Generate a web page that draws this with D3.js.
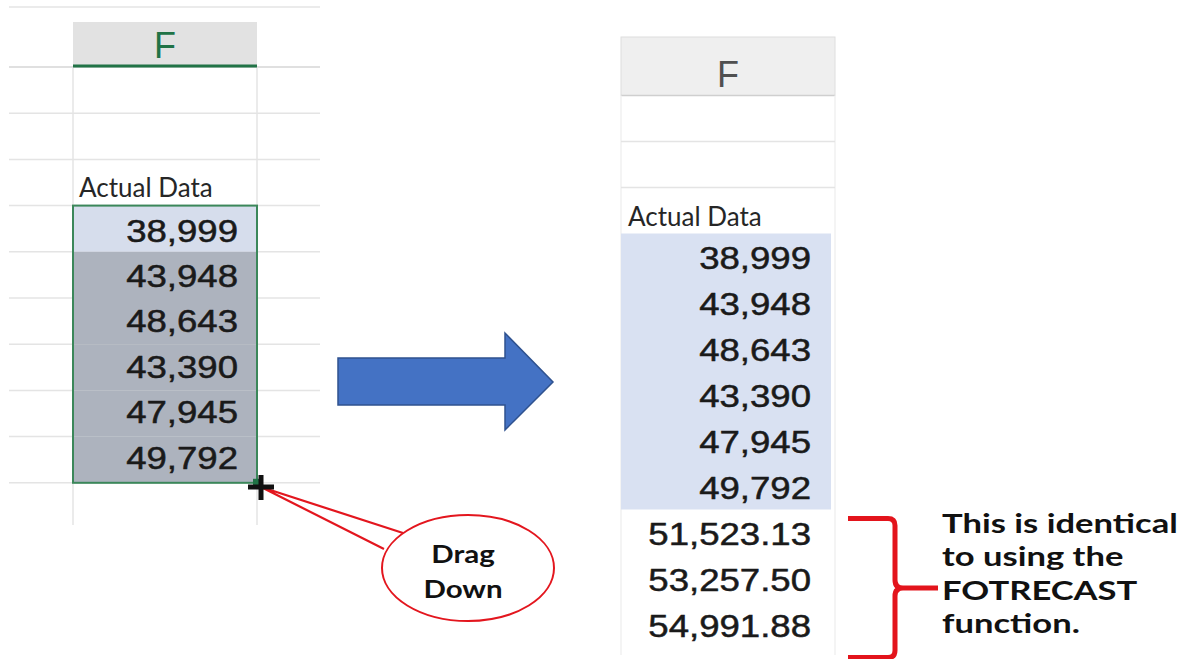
<!DOCTYPE html>
<html>
<head>
<meta charset="utf-8">
<script src="https://cdn.jsdelivr.net/npm/d3@7"></script>
<style>
  body { margin: 0; background: #fff; }
  svg { display: block; }
</style>
</head>
<body>
<svg id="chart" width="1181" height="659"></svg>
<script>
const columnLabel = "F";
const headerText = "Actual Data";
const actualValues = [38999, 43948, 48643, 43390, 47945, 49792];
const forecastValues = [51523.13, 53257.50, 54991.88];
const calloutLines = ["Drag", "Down"];
const noteLines = ["This is identical", "to using the", "FOTRECAST", "function."];

const width = 1181;
const height = 659;

const svg = d3.select("#chart");

const fmtInt = d3.format(",");
const fmtDec = d3.format(",.2f");

const gridColor = "#e4e4e4";
const numFont = "'Liberation Sans', Arial, sans-serif";
const textFont = "Lato, 'Open Sans', sans-serif";

// row scales: index 0 = first row under the column header
const leftRow = d3.scaleLinear().domain([0, 1]).range([67, 113.2]);
const rightRow = d3.scaleLinear().domain([0, 1]).range([95.5, 141.5]);

// ---------- left sheet ----------
const left = svg.append("g");
const lx0 = 73, lx1 = 257;

left.append("line")
  .attr("x1", 9).attr("x2", 320).attr("y1", 7).attr("y2", 7)
  .attr("stroke", gridColor).attr("stroke-width", 1.5);

left.append("rect")
  .attr("x", lx0).attr("y", 22).attr("width", lx1 - lx0).attr("height", 44)
  .attr("fill", "#e2e2e2");

left.selectAll("line.h")
  .data(d3.range(0, 10))
  .enter().append("line")
  .attr("class", "h")
  .attr("x1", 9).attr("x2", 320)
  .attr("y1", d => leftRow(d)).attr("y2", d => leftRow(d))
  .attr("stroke", d => d === 0 ? "#d6d6d6" : gridColor)
  .attr("stroke-width", 1.5);

left.selectAll("line.v")
  .data([lx0, lx1])
  .enter().append("line")
  .attr("class", "v")
  .attr("x1", d => d).attr("x2", d => d)
  .attr("y1", 67).attr("y2", 525)
  .attr("stroke", gridColor).attr("stroke-width", 1.5);

left.append("line")
  .attr("x1", lx0).attr("x2", lx1).attr("y1", 66).attr("y2", 66)
  .attr("stroke", "#217346").attr("stroke-width", 3);

left.append("text")
  .attr("x", (lx0 + lx1) / 2).attr("y", 58)
  .attr("text-anchor", "middle")
  .attr("font-family", numFont).attr("font-size", 36)
  .attr("fill", "#217346")
  .text(columnLabel);

left.append("text")
  .attr("x", 79).attr("y", leftRow(3) - 9)
  .attr("font-family", textFont).attr("font-size", 26)
  .attr("fill", "#262626")
  .text(headerText);

// selection block
left.selectAll("rect.cell")
  .data(actualValues)
  .enter().append("rect")
  .attr("class", "cell")
  .attr("x", lx0).attr("width", lx1 - lx0)
  .attr("y", (d, i) => leftRow(3 + i))
  .attr("height", leftRow(1) - leftRow(0))
  .attr("fill", (d, i) => i === 0 ? "#d6ddec" : "#adb3be");

left.append("rect")
  .attr("x", lx0).attr("y", leftRow(3))
  .attr("width", lx1 - lx0)
  .attr("height", leftRow(3 + actualValues.length) - leftRow(3))
  .attr("fill", "none")
  .attr("stroke", "#3b875a").attr("stroke-width", 2);

left.selectAll("text.val")
  .data(actualValues)
  .enter().append("text")
  .attr("class", "val")
  .attr("transform", (d, i) => `translate(238, ${leftRow(3 + i) + 36 - i * 0.8}) scale(1.18, 1)`)
  .attr("text-anchor", "end")
  .attr("font-family", numFont).attr("font-size", 31)
  .attr("fill", "#1a1a1a")
  .attr("stroke", "#1a1a1a").attr("stroke-width", 0.5)
  .text(d => fmtInt(d));

// fill handle
const handleY = leftRow(3 + actualValues.length);
left.append("rect")
  .attr("x", lx1 - 4).attr("y", handleY - 4).attr("width", 8).attr("height", 8)
  .attr("fill", "#217346");

// ---------- callout ----------
const call = svg.append("g");
const tip = [261, 487];
const bubble = { cx: 468, cy: 568, rx: 86, ry: 53 };

call.append("path")
  .attr("d", `M${tip[0]},${tip[1]} L403,533 M${tip[0]},${tip[1]} L384,549`)
  .attr("stroke", "#e3161e").attr("stroke-width", 2.2).attr("fill", "none");

call.append("ellipse")
  .attr("cx", bubble.cx).attr("cy", bubble.cy)
  .attr("rx", bubble.rx).attr("ry", bubble.ry)
  .attr("fill", "#fff")
  .attr("stroke", "#e3161e").attr("stroke-width", 2);

call.selectAll("text")
  .data(calloutLines)
  .enter().append("text")
  .attr("transform", (d, i) => `translate(463, ${563 + i * 35}) scale(1.18, 1)`)
  .attr("text-anchor", "middle")
  .attr("font-family", textFont).attr("font-weight", 700).attr("font-size", 25)
  .attr("fill", "#111")
  .text(d => d);

// black plus cursor
call.append("path")
  .attr("d", `M${tip[0] - 13},${tip[1]} H${tip[0] + 13} M${tip[0]},${tip[1] - 12} V${tip[1] + 13}`)
  .attr("stroke", "#111").attr("stroke-width", 5);

// ---------- arrow ----------
svg.append("path")
  .attr("d", "M338,358 H505 V333 L553,382 L505,430 V405 H338 Z")
  .attr("fill", "#4472c4")
  .attr("stroke", "#2f528f").attr("stroke-width", 1.5);

// ---------- right sheet ----------
const right = svg.append("g");
const rx0 = 621, rx1 = 835;

right.append("rect")
  .attr("x", rx0).attr("y", 37).attr("width", rx1 - rx0).attr("height", rightRow(0) - 37)
  .attr("fill", "#efefef")
  .attr("stroke", "#dedede").attr("stroke-width", 1);

right.append("line")
  .attr("x1", rx0).attr("x2", rx1).attr("y1", rightRow(0)).attr("y2", rightRow(0))
  .attr("stroke", "#cfcfcf").attr("stroke-width", 1.5);

right.selectAll("line.v")
  .data([rx0, rx1])
  .enter().append("line")
  .attr("class", "v")
  .attr("x1", d => d).attr("x2", d => d)
  .attr("y1", rightRow(0)).attr("y2", 655)
  .attr("stroke", "#f0f0f0").attr("stroke-width", 1.5);

right.selectAll("line.h")
  .data([1, 2])
  .enter().append("line")
  .attr("class", "h")
  .attr("x1", rx0).attr("x2", rx1)
  .attr("y1", d => rightRow(d)).attr("y2", d => rightRow(d))
  .attr("stroke", gridColor).attr("stroke-width", 1.5);

right.append("text")
  .attr("x", 728).attr("y", 87)
  .attr("text-anchor", "middle")
  .attr("font-family", numFont).attr("font-size", 36)
  .attr("fill", "#505050")
  .text(columnLabel);

right.append("text")
  .attr("x", 628).attr("y", rightRow(3) - 8)
  .attr("font-family", textFont).attr("font-size", 26)
  .attr("fill", "#262626")
  .text(headerText);

right.append("rect")
  .attr("x", rx0).attr("y", rightRow(3))
  .attr("width", 831 - rx0)
  .attr("height", rightRow(3 + actualValues.length) - rightRow(3))
  .attr("fill", "#d9e1f2");

const allValues = actualValues.map(v => ({ v, f: fmtInt }))
  .concat(forecastValues.map(v => ({ v, f: fmtDec })));

right.selectAll("text.val")
  .data(allValues)
  .enter().append("text")
  .attr("class", "val")
  .attr("transform", (d, i) => `translate(811, ${rightRow(3 + i) + 35}) scale(1.18, 1)`)
  .attr("text-anchor", "end")
  .attr("font-family", numFont).attr("font-size", 31)
  .attr("fill", "#1a1a1a")
  .attr("stroke", "#1a1a1a").attr("stroke-width", 0.5)
  .text(d => d.f(d.v));

// ---------- bracket + note ----------
const bTop = rightRow(3 + actualValues.length) + 9;
const bBot = rightRow(3 + allValues.length) + 10;
const bMid = (bTop + bBot) / 2;

svg.append("path")
  .attr("d", `M848,${bTop} H888 Q895,${bTop} 895,${bTop + 7} V${bMid - 8} Q895,${bMid} 903,${bMid} H938
              M903,${bMid} Q895,${bMid} 895,${bMid + 8} V${bBot - 7} Q895,${bBot} 888,${bBot} H848`)
  .attr("fill", "none")
  .attr("stroke", "#e3141c").attr("stroke-width", 5);

svg.selectAll("text.note")
  .data(noteLines)
  .enter().append("text")
  .attr("class", "note")
  .attr("transform", (d, i) => `translate(942, ${533 + i * 33.4}) scale(1.33, 1)`)
  .attr("font-family", textFont).attr("font-weight", 700).attr("font-size", 26)
  .attr("fill", "#111")
  .text(d => d);
</script>
</body>
</html>
